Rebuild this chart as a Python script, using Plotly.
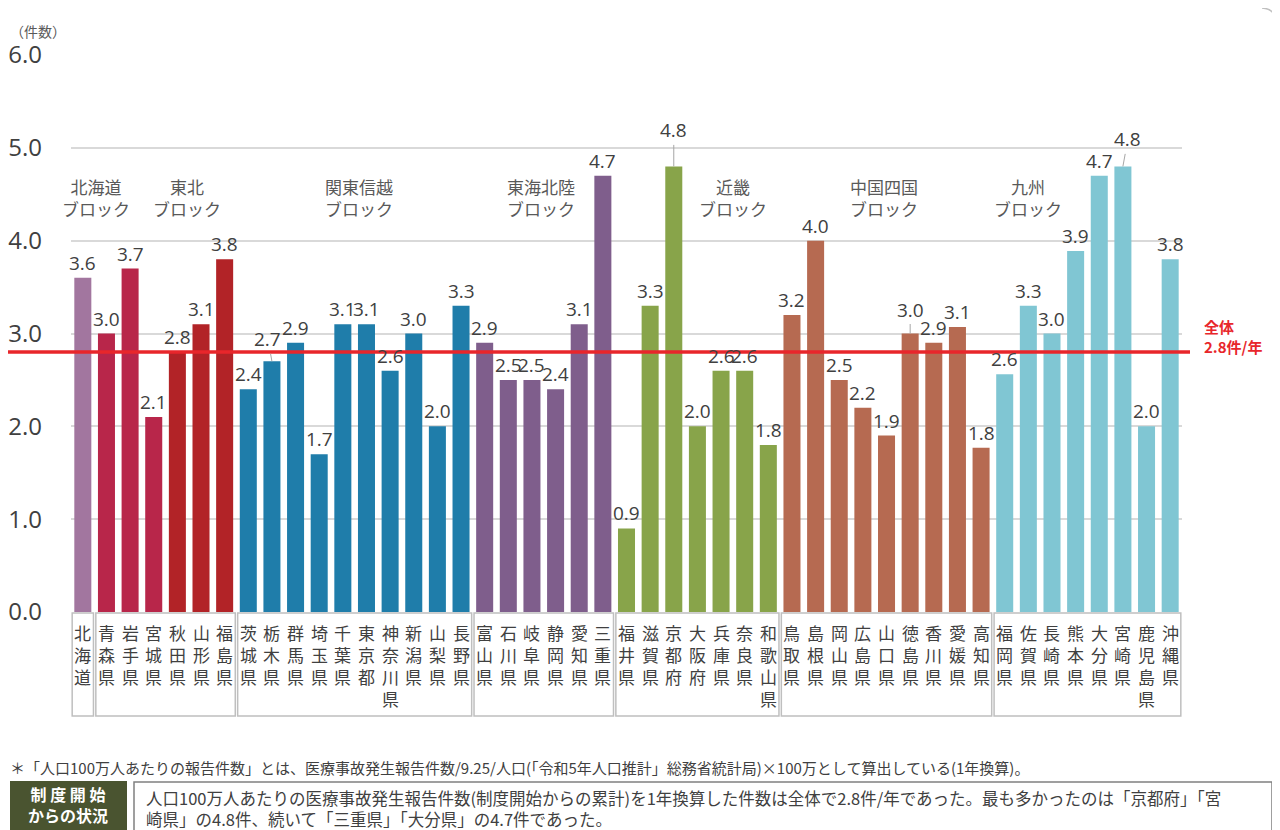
import plotly.graph_objects as go

# ---------------- data ----------------
prefectures = [
    "北海道",
    "青森県", "岩手県", "宮城県", "秋田県", "山形県", "福島県",
    "茨城県", "栃木県", "群馬県", "埼玉県", "千葉県", "東京都", "神奈川県", "新潟県", "山梨県", "長野県",
    "富山県", "石川県", "岐阜県", "静岡県", "愛知県", "三重県",
    "福井県", "滋賀県", "京都府", "大阪府", "兵庫県", "奈良県", "和歌山県",
    "鳥取県", "島根県", "岡山県", "広島県", "山口県", "徳島県", "香川県", "愛媛県", "高知県",
    "福岡県", "佐賀県", "長崎県", "熊本県", "大分県", "宮崎県", "鹿児島県", "沖縄県",
]
values = [
    3.6,
    3.0, 3.7, 2.1, 2.8, 3.1, 3.8,
    2.4, 2.7, 2.9, 1.7, 3.1, 3.1, 2.6, 3.0, 2.0, 3.3,
    2.9, 2.5, 2.5, 2.4, 3.1, 4.7,
    0.9, 3.3, 4.8, 2.0, 2.6, 2.6, 1.8,
    3.2, 4.0, 2.5, 2.2, 1.9, 3.0, 2.9, 3.07, 1.77,
    2.56, 3.3, 3.0, 3.89, 4.7, 4.8, 2.0, 3.8,
]
blocks = ["北海道", "東北", "関東信越", "東海北陸", "近畿", "中国四国", "九州"]
block_sizes = [1, 6, 10, 6, 7, 9, 8]
block_titles = ["北海道<br>ブロック", "東北<br>ブロック", "関東信越<br>ブロック", "東海北陸<br>ブロック",
                "近畿<br>ブロック", "中国四国<br>ブロック", "九州<br>ブロック"]
overall_avg = 2.8
avg_label = "全体<br>2.8件/年"
y_title = "（件数）"
y_ticks = [0, 1, 2, 3, 4, 5, 6]
footnote = "＊「人口100万人あたりの報告件数」とは、医療事故発生報告件数/9.25/人口(「令和5年人口推計」総務省統計局)×100万として算出している(1年換算)。"
status_title = "制 度 開 始<br>からの状況"
status_text = ("人口100万人あたりの医療事故発生報告件数(制度開始からの累計)を1年換算した件数は全体で2.8件/年であった。最も多かったのは「京都府」「宮<br>"
               "崎県」の4.8件、続いて「三重県」「大分県」の4.7件であった。")

# ---------------- styles ----------------
block_colors = {
    "北海道": ["#A2769F"],
    "東北": ["#B8264A", "#B8264A", "#B8264A", "#B22327", "#B22327", "#B22327"],
    "関東信越": ["#1F7DAA"],
    "東海北陸": ["#7F5E8C"],
    "近畿": ["#88A44A"],
    "中国四国": ["#B66A51"],
    "九州": ["#80C6D3"],
}
colors = []
for b, n in zip(blocks, block_sizes):
    c = block_colors[b]
    for i in range(n):
        colors.append(c[i] if len(c) > 1 else c[0])

block_title_x = [0.55, 4.4, 11.7, 19.4, 27.5, 33.9, 40.0]
leader_offsets = {"栃木県": (-4, -22), "京都府": (0, -36), "徳島県": (0, -24), "宮崎県": (5, -27)}

TXT = "#404040"
NUMFONT = "Open Sans, Noto Sans CJK JP, sans-serif"
JPFONT = "Noto Sans CJK JP, sans-serif"

OFF = 8  # default page body margin
W, H = 1280 - OFF, 830 - OFF
L = 71 - OFF
T = 55 - OFF
R = W - (1182 - OFF)
B = H - (612 - OFF)
pw, ph = W - L - R, H - T - B


def px(xpix):
    return (xpix - OFF - L) / pw


def py(ypix):
    return (H - B - (ypix - OFF)) / ph


idx = list(range(len(prefectures)))

fig = go.Figure()
fig.add_trace(go.Bar(x=idx, y=values, marker=dict(color=colors, line=dict(width=0)),
                     hoverinfo="skip", showlegend=False))

annotations = []
for i, (p, v) in enumerate(zip(prefectures, values)):
    lab = f"{v:.1f}"
    if p in leader_offsets:
        ax, ay = leader_offsets[p]
        annotations.append(dict(x=i, y=v, xref="x", yref="y", text=lab, showarrow=True,
                                ax=ax, ay=ay, arrowhead=0, arrowwidth=1, arrowcolor="#A6A6A6",
                                standoff=0, font=dict(family=NUMFONT, size=19, color=TXT)))
    else:
        annotations.append(dict(x=i, y=v, xref="x", yref="y", text=lab, showarrow=False,
                                yanchor="bottom", yshift=0,
                                font=dict(family=NUMFONT, size=19, color=TXT)))

for i, p in enumerate(prefectures):
    annotations.append(dict(x=i, y=py(618), xref="x", yref="paper", text="<br>".join(list(p)),
                            showarrow=False, yanchor="top", xanchor="center",
                            font=dict(family=JPFONT, size=17, color=TXT)))

for bx, t in zip(block_title_x, block_titles):
    annotations.append(dict(x=bx, y=4.47, xref="x", yref="y", text=t, showarrow=False,
                            yanchor="middle", xanchor="center",
                            font=dict(family=JPFONT, size=17, color="#595959")))

annotations.append(dict(x=px(1202), y=py(336), xref="paper", yref="paper", text="<b>" + avg_label + "</b>",
                        showarrow=False, xanchor="left", yanchor="middle", align="left",
                        font=dict(family=JPFONT, size=15, color="#E8262B")))
annotations.append(dict(x=px(8), y=py(31), xref="paper", yref="paper", text=y_title, showarrow=False,
                        xanchor="left", yanchor="middle",
                        font=dict(family=JPFONT, size=14, color="#595959")))
annotations.append(dict(x=px(8), y=py(767), xref="paper", yref="paper", text=footnote, showarrow=False,
                        xanchor="left", yanchor="middle",
                        font=dict(family=JPFONT, size=15, color=TXT)))
annotations.append(dict(x=px(68), y=py(805), xref="paper", yref="paper", text="<b>" + status_title + "</b>",
                        showarrow=False, xanchor="center", yanchor="middle", align="center",
                        font=dict(family=JPFONT, size=16, color="white")))
annotations.append(dict(x=px(144), y=py(808), xref="paper", yref="paper", text=status_text, showarrow=False,
                        xanchor="left", yanchor="middle", align="left",
                        font=dict(family=JPFONT, size=16.5, color=TXT)))

shapes = []
start = 0
for n in block_sizes:
    shapes.append(dict(type="rect", xref="x", yref="paper", x0=start - 0.45, x1=start + n - 1 + 0.45,
                       y0=py(716), y1=py(613), line=dict(color="#BFBFBF", width=1.5),
                       fillcolor="rgba(0,0,0,0)", layer="below"))
    start += n
shapes.append(dict(type="line", xref="paper", yref="y", x0=px(8), x1=px(1190), y0=overall_avg, y1=overall_avg,
                   line=dict(color="#E8262B", width=3.5)))
shapes.append(dict(type="rect", xref="paper", yref="paper", x0=px(10), x1=px(127), y0=py(834), y1=py(781),
                   line=dict(width=0), fillcolor="#4A5430"))
shapes.append(dict(type="rect", xref="paper", yref="paper", x0=px(134), x1=px(1272), y0=py(836), y1=py(782),
                   line=dict(color="#808080", width=1.5), fillcolor="rgba(0,0,0,0)"))
shapes.append(dict(type="path", xref="paper", yref="paper",
                   path=f"M {px(1262)} {py(8)} Q {px(1275)} {py(9)} {px(1275)} {py(20)} L {px(1275)} {py(745)}",
                   line=dict(color="#BFBFBF", width=1.5)))

fig.update_layout(
    width=W, height=H,
    margin=dict(l=L, r=R, t=T, b=B, autoexpand=False),
    paper_bgcolor="white", plot_bgcolor="white",
    bargap=0.28,
    xaxis=dict(type="linear", range=[-0.5, len(prefectures) - 0.5], showticklabels=False, automargin=False,
               showgrid=False, zeroline=False, showline=False, ticks=""),
    yaxis=dict(range=[0, 6], tickvals=y_ticks, ticktext=[f"{t:.1f}" for t in y_ticks], automargin=False,
               showgrid=True, gridcolor="#D9D9D9", gridwidth=1.5, zeroline=False, showline=False,
               tickfont=dict(family=NUMFONT, size=24, color=TXT), ticklabelstandoff=28, ticks=""),
    annotations=annotations, shapes=shapes,
    font=dict(family=JPFONT),
)

fig.write_html("out.html")
